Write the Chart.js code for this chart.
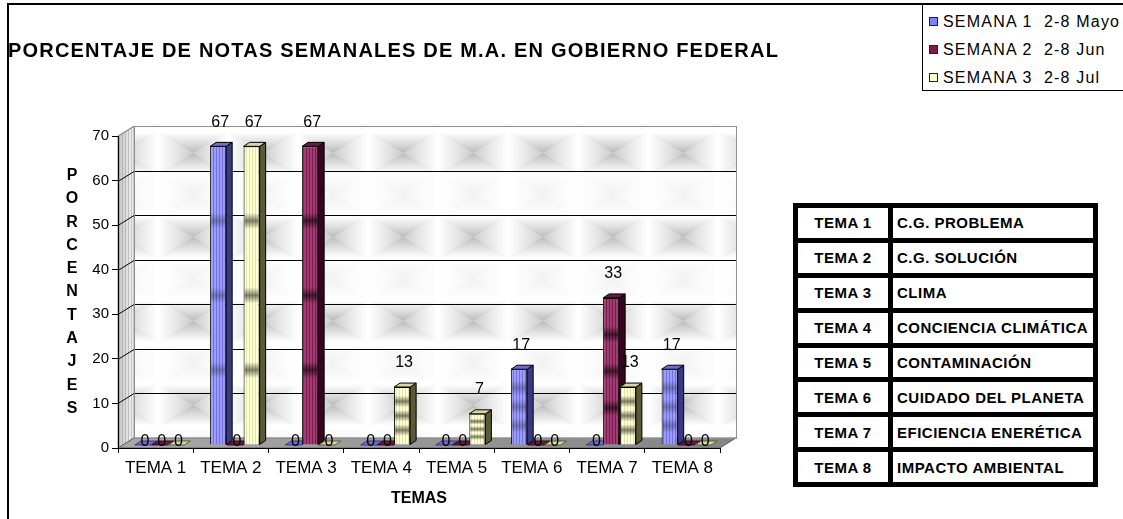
<!DOCTYPE html>
<html lang="es">
<head>
<meta charset="UTF-8">
<title>Porcentaje de notas semanales</title>
<script src="https://cdn.jsdelivr.net/npm/chart.js"></script>
<style>
  body { margin: 0; background: #fff; font-family: Arial, "Liberation Sans", sans-serif; color: #000; }
  #wrap { position: relative; width: 1123px; height: 519px; overflow: hidden; }
  #frame { position: absolute; left: 7px; top: 3px; width: 2000px; height: 2000px; border-left: 2px solid #000; border-top: 2px solid #000; }
  #chart { position: absolute; left: 0; top: 0; }
  #title { position: absolute; left: 8px; top: 38px; font-weight: bold; font-size: 20px; letter-spacing: 1.2px; line-height: 24px; white-space: nowrap; }
  #legend { position: absolute; left: 922px; top: 4px; width: 220px; height: 85px; border: 1px solid #000; background: #fff; }
  .item { position: absolute; left: 6px; height: 20px; line-height: 20px; font-size: 16px; letter-spacing: 1.2px; white-space: pre; }
  .item i { display: inline-block; width: 7px; height: 7px; border: 1px solid #222; margin-right: 5px; vertical-align: 1px; }
  #temas { position: absolute; left: 793px; top: 203px; width: 295px; height: 274px; padding: 5px; background: #000;
           display: grid; grid-template-columns: 90px 200px; grid-template-rows: repeat(8, 1fr); gap: 5px; }
  #temas div { background: #fff; font-weight: bold; font-size: 15px; letter-spacing: 0.5px; display: flex; align-items: center; white-space: nowrap; overflow: hidden; min-width: 0; }
  #temas div.k { justify-content: center; }
  #temas div.v { padding-left: 4px; }
</style>
</head>
<body>
<div id="wrap">
  <div id="frame"></div>
  <canvas id="chart" width="1123" height="519"></canvas>
  <div id="title">PORCENTAJE DE NOTAS SEMANALES DE M.A. EN GOBIERNO FEDERAL</div>
  <div id="legend"></div>
  <div id="temas"></div>
</div>

<script>
// datos
const categories = ['TEMA 1', 'TEMA 2', 'TEMA 3', 'TEMA 4', 'TEMA 5', 'TEMA 6', 'TEMA 7', 'TEMA 8'];
const temaNames = ['C.G. PROBLEMA', 'C.G. SOLUCIÓN', 'CLIMA', 'CONCIENCIA CLIMÁTICA', 'CONTAMINACIÓN',
                   'CUIDADO DEL PLANETA', 'EFICIENCIA ENERÉTICA', 'IMPACTO AMBIENTAL'];
const seriesNames = ['SEMANA 1  2-8 Mayo', 'SEMANA 2  2-8 Jun', 'SEMANA 3  2-8 Jul'];
const semana1 = [0, 67, 0, 0, 0, 17, 0, 17];
const semana2 = [0, 0, 67, 0, 0, 0, 33, 0];
const semana3 = [0, 67, 0, 13, 7, 0, 13, 0];
const yMin = 0, yMax = 70, yStep = 10;
const xTitle = 'TEMAS';
const yTitle = 'PORCENTAJES';

// colores de cada serie
const looks = [
  { light: '#9c9cff', dark: '#7272d8', side: '#3a3a84', top: '#6c6cd0', band: 0.28, mark: '#8080ff' },
  { light: '#a23c72', dark: '#7a1c4e', side: '#360620', top: '#6a1844', band: 0.6, mark: '#7a1c4e' },
  { light: '#ffffd4', dark: '#e2e2ac', side: '#5a5a36', top: '#d6d6a0', band: 0.5, mark: '#ffffcc' }
];

const depth = { x: 16, y: -10 };     // profundidad de las paredes
const barDepth = { x: 6, y: -4 };    // profundidad de las barras
const barShift = { x: 4, y: -3 };    // barras en medio del suelo

function stripes(c1, c2) {
  const cv = document.createElement('canvas');
  cv.width = 3; cv.height = 4;
  const g = cv.getContext('2d');
  g.fillStyle = c1; g.fillRect(0, 0, 3, 4);
  g.fillStyle = c2; g.fillRect(2, 0, 1, 4);
  return g.createPattern(cv, 'repeat');
}

function pyramid(g, x, y, w, h, a) {
  const cx = x + w / 2, cy = y + h / 2;
  const sides = [
    [[x, y], [x + w, y], [cx, y], 1],
    [[x + w, y + h], [x, y + h], [cx, y + h], 1],
    [[x, y + h], [x, y], [x, cy], 0.75],
    [[x + w, y], [x + w, y + h], [x + w, cy], 0.75]
  ];
  sides.forEach(([p1, p2, m, k]) => {
    g.save();
    g.beginPath(); g.moveTo(cx, cy); g.lineTo(p1[0], p1[1]); g.lineTo(p2[0], p2[1]); g.closePath(); g.clip();
    const gr = g.createLinearGradient(cx, cy, m[0], m[1]);
    gr.addColorStop(0, 'rgba(0,0,0,' + (a * k) + ')');
    gr.addColorStop(0.5, 'rgba(0,0,0,' + (a * k * 0.45) + ')');
    gr.addColorStop(1, 'rgba(0,0,0,0)');
    g.fillStyle = gr;
    g.fillRect(x, y, w, h);
    g.restore();
  });
}

function wallTile() {
  const cv = document.createElement('canvas');
  cv.width = 70; cv.height = 84;
  const g = cv.getContext('2d');
  g.fillStyle = '#fff'; g.fillRect(0, 0, 70, 84);
  pyramid(g, 0, 0, 70, 42, 0.27);
  pyramid(g, 0, 42, 70, 42, 0.06);
  return cv;
}

function poly(ctx, pts) {
  ctx.beginPath();
  ctx.moveTo(pts[0][0], pts[0][1]);
  for (let i = 1; i < pts.length; i++) ctx.lineTo(pts[i][0], pts[i][1]);
  ctx.closePath();
}

const tileCanvas = wallTile();
const sideStripes = stripes('rgba(255,255,255,0)', 'rgba(120,120,120,0.35)');

const scene3d = {
  id: 'scene3d',
  beforeDraw(chart) {
    const { ctx, chartArea: a, scales: { y } } = chart;
    const l = a.left, r = a.right, t = a.top, b = a.bottom;
    const dx = depth.x, dy = depth.y;
    ctx.save();
    // pared del fondo
    const pat = ctx.createPattern(tileCanvas, 'repeat');
    pat.setTransform(new DOMMatrix([1, 0, 0, 1, l + dx + 24, t + dy + 6]));
    ctx.fillStyle = pat;
    ctx.fillRect(l + dx, t + dy, r - l, b - t);
    // pared lateral
    poly(ctx, [[l, b], [l, t], [l + dx, t + dy], [l + dx, b + dy]]);
    const sg = ctx.createLinearGradient(l, 0, l + dx, 0);
    sg.addColorStop(0, '#c4c4c4'); sg.addColorStop(1, '#f4f4f4');
    ctx.fillStyle = sg; ctx.fill();
    ctx.fillStyle = sideStripes; ctx.fill();
    ctx.strokeStyle = '#909090'; ctx.lineWidth = 1; ctx.stroke();
    // suelo
    poly(ctx, [[l, b], [r, b], [r + dx, b + dy], [l + dx, b + dy]]);
    const fg = ctx.createLinearGradient(l, 0, r, 0);
    fg.addColorStop(0, '#a8a8a8'); fg.addColorStop(1, '#858585');
    ctx.fillStyle = fg; ctx.fill();
    ctx.strokeStyle = '#606060'; ctx.stroke();
    // lineas de division
    y.ticks.forEach(tk => {
      const py = Math.round(y.getPixelForValue(tk.value)) + 0.5;
      if (tk.value === yMin) return;
      ctx.strokeStyle = tk.value === yMax ? '#909090' : '#000';
      ctx.beginPath();
      ctx.moveTo(l, py); ctx.lineTo(l + dx, py + dy); ctx.lineTo(r + dx, py + dy);
      ctx.stroke();
    });
    ctx.strokeStyle = '#909090';
    ctx.strokeRect(l + dx + 0.5, t + dy + 0.5, r - l, b - t);
    ctx.restore();
  },
  beforeDatasetsDraw(chart) {
    const ctx = chart.ctx;
    ctx.save();
    ctx.translate(barShift.x, barShift.y);
    const bx = barDepth.x, by = barDepth.y;
    chart.data.datasets.forEach((ds, i) => {
      const look = looks[i];
      chart.getDatasetMeta(i).data.forEach(bar => {
        const { x, y, base, width } = bar.getProps(['x', 'y', 'base', 'width'], true);
        const L = x - width / 2, R = x + width / 2;
        ctx.lineWidth = 1;
        ctx.strokeStyle = '#000';
        if (base - y > 0.5) {
          poly(ctx, [[R, y], [R + bx, y + by], [R + bx, base + by], [R, base]]);
          ctx.fillStyle = look.side; ctx.fill(); ctx.stroke();
        }
        poly(ctx, [[L, y], [R, y], [R + bx, y + by], [L + bx, y + by]]);
        ctx.fillStyle = look.top; ctx.fill();
        ctx.strokeStyle = base - y > 0.5 ? '#000' : look.side;
        ctx.stroke();
      });
    });
  },
  afterDatasetsDraw(chart) {
    const ctx = chart.ctx;
    // bandas oscuras en la cara frontal
    chart.data.datasets.forEach((ds, i) => {
      const look = looks[i];
      chart.getDatasetMeta(i).data.forEach(bar => {
        const { x, y, base, width } = bar.getProps(['x', 'y', 'base', 'width'], true);
        const h = base - y;
        if (h < 6) return;
        const hw = Math.min(h / 10, 8);
        for (let k = 1; k <= 3; k++) {
          const yk = y + h * k / 4;
          const g = ctx.createLinearGradient(0, yk - hw, 0, yk + hw);
          g.addColorStop(0, 'rgba(0,0,0,0)');
          g.addColorStop(0.5, 'rgba(0,0,0,' + look.band + ')');
          g.addColorStop(1, 'rgba(0,0,0,0)');
          ctx.fillStyle = g;
          ctx.fillRect(x - width / 2 + 1, yk - hw, width - 2, hw * 2);
        }
      });
    });
    // etiquetas de datos
    ctx.fillStyle = '#000';
    ctx.font = '16px Arial, "Liberation Sans", sans-serif';
    ctx.textAlign = 'center';
    ctx.textBaseline = 'middle';
    chart.data.datasets.forEach((ds, i) => {
      chart.getDatasetMeta(i).data.forEach((bar, j) => {
        const v = ds.data[j];
        const { x, y, base } = bar.getProps(['x', 'y', 'base'], true);
        const ty = v === 0 ? base - 3 : y - 24;
        ctx.fillText(String(v), x + 2, ty);
      });
    });
    ctx.restore();
  },
  afterDraw(chart) {
    const { ctx, scales: { y } } = chart;
    const mid = (y.top + y.bottom) / 2;
    const step = 23.3;
    ctx.save();
    ctx.fillStyle = '#000';
    ctx.font = 'bold 16px Arial, "Liberation Sans", sans-serif';
    ctx.textAlign = 'center';
    ctx.textBaseline = 'middle';
    const letters = yTitle.split('');
    letters.forEach((ch, k) => {
      ctx.fillText(ch, 72, mid + (k - (letters.length - 1) / 2) * step);
    });
    ctx.restore();
  }
};

const series = [semana1, semana2, semana3];

new Chart(document.getElementById('chart'), {
  type: 'bar',
  data: {
    labels: categories,
    datasets: series.map((d, i) => ({
      label: seriesNames[i],
      data: d,
      backgroundColor: stripes(looks[i].light, looks[i].dark),
      borderColor: '#000',
      borderWidth: 1,
      barPercentage: 0.96,
      categoryPercentage: 0.667
    }))
  },
  options: {
    responsive: false,
    animation: false,
    devicePixelRatio: 1,
    layout: { padding: { left: 78, right: 403, top: 136, bottom: 11 } },
    plugins: { legend: { display: false }, tooltip: { enabled: false } },
    scales: {
      x: {
        afterFit: s => { s.height = 60; },
        grid: { drawOnChartArea: false, tickLength: 5, color: '#000', offset: true },
        border: { color: '#000' },
        ticks: { color: '#000', font: { size: 17, family: 'Arial' }, padding: 5, maxRotation: 0, autoSkip: false },
        title: { display: true, text: xTitle, color: '#000', font: { size: 16, weight: 'bold', family: 'Arial' }, padding: 0 }
      },
      y: {
        min: yMin,
        max: yMax,
        afterFit: s => { s.width = 40; },
        grid: { drawOnChartArea: false, tickLength: 6, color: '#000' },
        border: { color: '#000' },
        ticks: { stepSize: yStep, color: '#000', font: { size: 15, family: 'Arial' }, padding: 3 }
      }
    }
  },
  plugins: [scene3d]
});

// leyenda
const legend = document.getElementById('legend');
seriesNames.forEach((name, i) => {
  const it = document.createElement('div');
  it.className = 'item';
  it.style.top = (7 + i * 28) + 'px';
  const m = document.createElement('i');
  m.style.background = looks[i].mark;
  it.appendChild(m);
  it.appendChild(document.createTextNode(name));
  legend.appendChild(it);
});

// tabla de temas
const temas = document.getElementById('temas');
categories.forEach((c, i) => {
  const k = document.createElement('div');
  k.className = 'k';
  k.textContent = c;
  const v = document.createElement('div');
  v.className = 'v';
  v.textContent = temaNames[i];
  temas.appendChild(k);
  temas.appendChild(v);
});
</script>
</body>
</html>
